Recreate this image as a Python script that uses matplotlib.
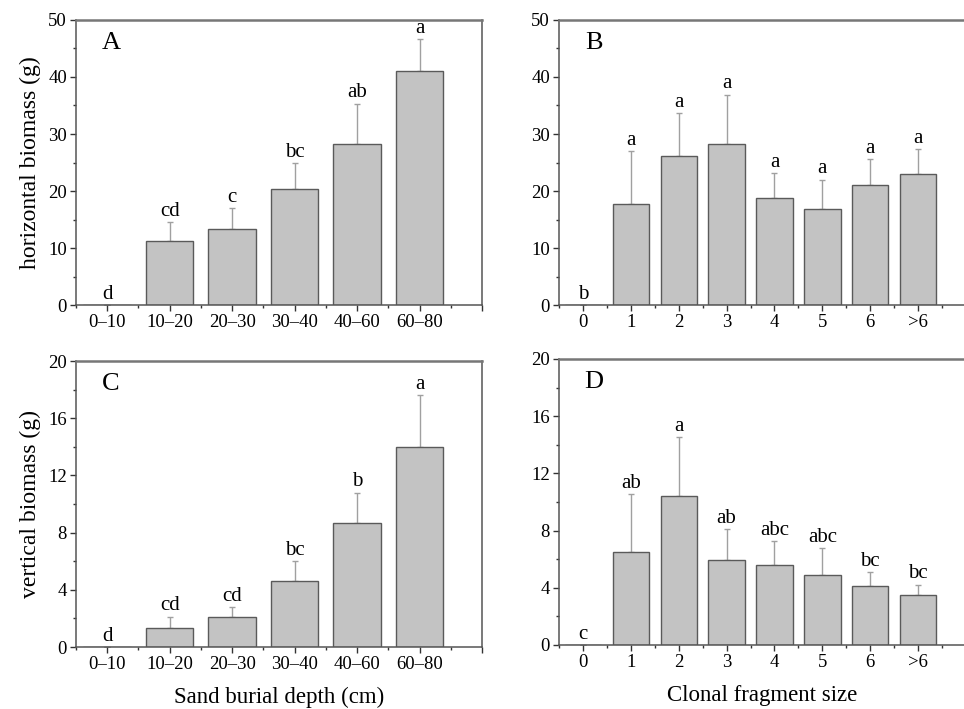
import matplotlib.pyplot as plt
from matplotlib.ticker import MultipleLocator, FixedLocator

plt.rcParams['font.family'] = ['Liberation Serif', 'DejaVu Serif']

# ---------- Data ----------
depth_labels = ["0–10", "10–20", "20–30", "30–40", "40–60", "60–80"]
size_labels = ["0", "1", "2", "3", "4", "5", "6", ">6"]

hor_depth = [0, 11.2, 13.4, 20.3, 28.2, 41.1]
hor_depth_err = [0, 3.3, 3.6, 4.6, 7.1, 5.5]
hor_depth_let = ["d", "cd", "c", "bc", "ab", "a"]

hor_size = [0, 17.7, 26.2, 28.3, 18.7, 16.8, 21.0, 23.0]
hor_size_err = [0, 9.3, 7.4, 8.6, 4.4, 5.2, 4.6, 4.3]
hor_size_let = ["b", "a", "a", "a", "a", "a", "a", "a"]

ver_depth = [0, 1.35, 2.1, 4.64, 8.7, 13.98]
ver_depth_err = [0, 0.77, 0.68, 1.36, 2.08, 3.62]
ver_depth_let = ["d", "cd", "cd", "bc", "b", "a"]

ver_size = [0, 6.5, 10.44, 5.97, 5.57, 4.9, 4.1, 3.47]
ver_size_err = [0, 4.04, 4.08, 2.12, 1.7, 1.86, 1.0, 0.75]
ver_size_let = ["c", "ab", "a", "ab", "abc", "abc", "bc", "bc"]

panels = [
    # letter, rect, labels, values, errors, letters, ymax, ystep, ylabel, xlabel
    ("A", [0.0788, 0.5698, 0.4212, 0.4020], depth_labels, hor_depth, hor_depth_err,
     hor_depth_let, 50, 10, "horizontal biomass (g)", None),
    ("B", [0.5799, 0.5698, 0.4221, 0.4020], size_labels, hor_size, hor_size_err,
     hor_size_let, 50, 10, None, None),
    ("C", [0.0788, 0.0874, 0.4212, 0.4034], depth_labels, ver_depth, ver_depth_err,
     ver_depth_let, 20, 4, "vertical biomass (g)", "Sand burial depth (cm)"),
    ("D", [0.5799, 0.0903, 0.4221, 0.4034], size_labels, ver_size, ver_size_err,
     ver_size_let, 20, 4, None, "Clonal fragment size"),
]

fig = plt.figure(figsize=(9.64, 7.09), dpi=100, facecolor='white')

for letter, rect, labels, vals, errs, lets, ymax, ystep, ylab, xlab in panels:
    ax = fig.add_axes(rect)
    n = len(labels)
    x = list(range(n))
    ax.bar(x, vals, width=0.76, color='#c3c3c3', edgecolor='#5a5a5a', linewidth=1.0, zorder=2)
    ax.errorbar(x, vals, yerr=[[0] * n, errs], fmt='none', ecolor='#a0a0a0',
                elinewidth=1.0, capsize=2.5, capthick=1.0, zorder=1)
    for xi, v, e, t in zip(x, vals, errs, lets):
        ax.annotate(t, (xi, v + e), xytext=(0, 1), textcoords='offset points',
                    ha='center', va='bottom', fontsize=15)

    ax.set_xlim(-0.5, n)
    ax.set_ylim(0, ymax)
    ax.xaxis.set_major_locator(FixedLocator(list(range(n + 1))))
    ax.set_xticklabels(labels + [""])
    ax.xaxis.set_minor_locator(FixedLocator([i + 0.5 for i in range(-1, n)]))
    ax.yaxis.set_major_locator(MultipleLocator(ystep))
    ax.yaxis.set_minor_locator(MultipleLocator(ystep / 2))
    ax.tick_params(axis='both', which='major', direction='out', length=4.5, width=1,
                   labelsize=13.5, colors='#333333', pad=2)
    ax.tick_params(axis='both', which='minor', direction='out', length=2.5, width=1,
                   colors='#333333')
    ax.tick_params(labelcolor='black')
    for s in ax.spines.values():
        s.set_color('#555555')
        s.set_linewidth(1.1)
    ax.spines['top'].set_color('#777777')
    ax.spines['top'].set_linewidth(1.8)

    ax.text(0.086, 0.92, letter, transform=ax.transAxes, ha='center', va='center',
            fontsize=19)
    if ylab:
        ax.set_ylabel(ylab, fontsize=17, labelpad=5)
    if xlab:
        ax.set_xlabel(xlab, fontsize=16.5, labelpad=10)

plt.savefig("out.png", dpi=100, facecolor='white')
